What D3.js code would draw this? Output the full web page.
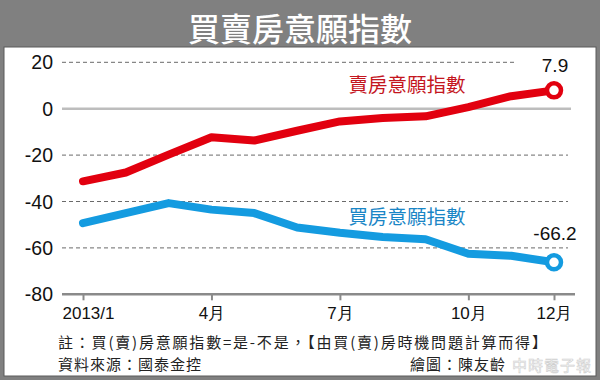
<!DOCTYPE html>
<meta charset="utf-8">
<style>
    body { margin: 0; background: #fff; }
    svg text { font-family: "Liberation Sans", Arial, sans-serif; }
    .cjk { font-family: "Noto Sans CJK TC", "Noto Sans CJK SC", sans-serif; }
</style>
<body>
<script src="https://cdn.jsdelivr.net/npm/d3@7"></script>
<script>
    // data
    var months = [1, 2, 3, 4, 5, 6, 7, 8, 9, 10, 11, 12]
    var sellIndex = [-31.3, -27.5, -19.8, -12.3, -13.7, -9.5, -5.5, -4, -3.3, 0.7, 5.4, 7.9]
    var buyIndex = [-49.3, -45, -40.7, -43.5, -45, -51.2, -53.5, -55.3, -56.3, -62.5, -63.4, -66.2]
    var yTicks = [20, 0, -20, -40, -60, -80]
    var xTicks = [1, 4, 7, 10, 12]
    var xTickLabels = ["2013/1", "4月", "7月", "10月", "12月"]

    var width = 600, height = 380

    var svg = d3.select("body").append("svg")
        .attr("width", width)
        .attr("height", height)

    // frame + title bar
    svg.append("rect").attr("width", width).attr("height", height).attr("fill", "#808080")
    svg.append("rect")
        .attr("x", 4).attr("y", 47).attr("width", 592).attr("height", 329)
        .attr("fill", "#fff").attr("stroke", "#5a5a5a").attr("stroke-width", 1)

    svg.append("text")
        .attr("class", "cjk")
        .attr("x", 300).attr("y", 27)
        .attr("text-anchor", "middle")
        .attr("dominant-baseline", "central")
        .attr("fill", "#fff")
        .attr("font-size", 32)
        .attr("font-weight", 500)
        .text("買賣房意願指數")

    var x = d3.scaleLinear().domain([1, 12]).range([83, 554])
    var y = d3.scaleLinear().domain([-80, 20]).range([294.3, 62.3])

    // grid
    var gridEnd = {20: 517, "-20": 568, "-40": 568, "-60": 568}
    yTicks.filter(function(d) { return d != 0 && d != -80 }).forEach(function(d) {
        svg.append("line")
            .attr("x1", 62).attr("x2", gridEnd[d])
            .attr("y1", y(d)).attr("y2", y(d))
            .attr("stroke", "#6a6a6a")
            .attr("stroke-width", 1)
            .attr("stroke-dasharray", "4,3")
    })
    svg.append("line")
        .attr("x1", 62).attr("x2", 571)
        .attr("y1", y(0)).attr("y2", y(0))
        .attr("stroke", "#bdbdbd").attr("stroke-width", 2.5)

    // y labels
    svg.selectAll(".ylab")
        .data(yTicks)
        .enter().append("text")
        .attr("x", 53)
        .attr("y", function(d) { return y(d) })
        .attr("dy", "0.36em")
        .attr("text-anchor", "end")
        .attr("font-size", 19.5)
        .attr("fill", "#111")
        .text(function(d) { return d })

    // x axis
    var xAxis = d3.axisBottom(x)
        .tickValues(xTicks)
        .tickSize(6)
        .tickFormat(function(d, i) { return xTickLabels[i] })

    var gx = svg.append("g")
        .attr("transform", "translate(0," + y(-80) + ")")
        .call(xAxis)
    gx.select(".domain")
        .attr("d", "M62,0H575")
        .attr("stroke", "#8a8a8a")
        .attr("stroke-width", 2.5)
    gx.selectAll(".tick line").attr("stroke", "#8a8a8a").attr("stroke-width", 2)
    gx.selectAll(".tick text")
        .attr("y", 13)
        .attr("font-size", 17)
        .attr("fill", "#111")
        .attr("font-family", "'Liberation Sans', 'Noto Sans CJK TC', sans-serif")
        .attr("dx", function(d) { return d == 1 ? 5 : 0 })

    // lines
    var line = d3.line()
        .x(function(d, i) { return x(months[i]) })
        .y(function(d) { return y(d) })

    var series = [
        {values: sellIndex, color: "#e2000f", label: "賣房意願指數", labelColor: "#c4161e", lx: 407, ly: 83, end: "7.9", ey: 65},
        {values: buyIndex, color: "#149be0", label: "買房意願指數", labelColor: "#1a86c6", lx: 407, ly: 215, end: "-66.2", ey: 233}
    ]

    series.forEach(function(s) {
        svg.append("path")
            .datum(s.values)
            .attr("d", line)
            .attr("fill", "none")
            .attr("stroke", s.color)
            .attr("stroke-width", 8)
            .attr("stroke-linejoin", "round")
            .attr("stroke-linecap", "round")

        var last = s.values[s.values.length - 1]
        svg.append("circle")
            .attr("cx", x(12)).attr("cy", y(last))
            .attr("r", 7)
            .attr("fill", "#fff")
            .attr("stroke", s.color)
            .attr("stroke-width", 4.5)

        svg.append("text")
            .attr("x", x(12) + 1).attr("y", s.ey)
            .attr("dy", "0.36em")
            .attr("text-anchor", "middle")
            .attr("font-size", 19)
            .attr("fill", "#111")
            .text(s.end)

        svg.append("text")
            .attr("class", "cjk")
            .attr("x", s.lx).attr("y", s.ly)
            .attr("dominant-baseline", "central")
            .attr("text-anchor", "middle")
            .attr("font-size", 19.5)
            .attr("fill", s.labelColor)
            .text(s.label)
    })

    // notes
    var notes = svg.append("g").attr("class", "cjk").attr("fill", "#222").attr("font-size", 15)
    notes.append("text").attr("class", "cjk").attr("x", 58).attr("y", 348).attr("letter-spacing", 1.8)
        .text("註：買(賣)房意願指數=是-不是，【由買(賣)房時機問題計算而得】")
    notes.append("text").attr("class", "cjk").attr("x", 58).attr("y", 370).attr("letter-spacing", 1)
        .text("資料來源：國泰金控")
    notes.append("text").attr("class", "cjk").attr("x", 410).attr("y", 370).attr("letter-spacing", 1)
        .text("繪圖：陳友齡")

    // faint watermark
    svg.append("text")
        .attr("class", "cjk")
        .attr("x", 512).attr("y", 371)
        .attr("font-size", 15)
        .attr("fill", "none")
        .attr("stroke", "#cfcfcf")
        .attr("stroke-width", 0.6)
        .attr("letter-spacing", 1)
        .text("中時電子報")
</script>
</body>
